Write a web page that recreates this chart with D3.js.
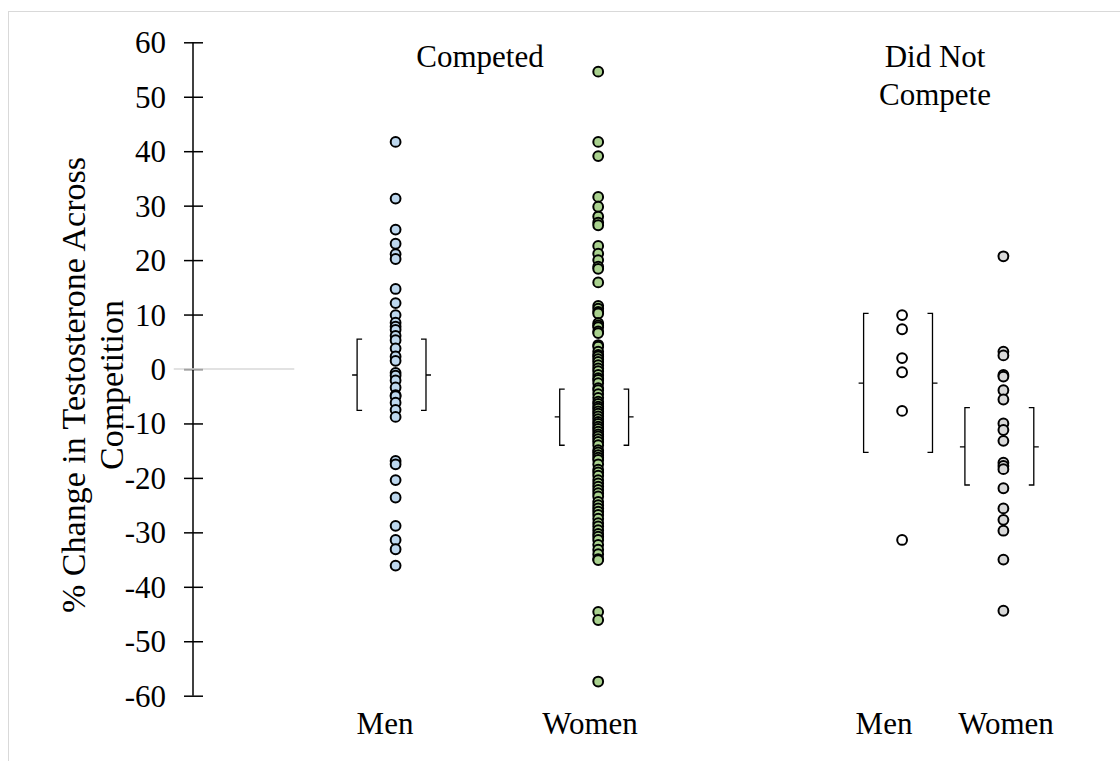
<!DOCTYPE html>
<html>
<head>
<meta charset="utf-8">
<script src="https://cdn.jsdelivr.net/npm/d3@7"></script>
<style>
  html, body { margin: 0; padding: 0; background: #fff; }
  svg text { font-family: "Liberation Serif", "Times New Roman", serif; fill: #000; }
</style>
</head>
<body>
<svg id="chart" width="1120" height="761"></svg>
<script>
// Groups along the horizontal axis (x position in group units)
const groups = ["Men", "Women", "Men", "Women"];
const groupX = [2, 4, 7, 8];
const groupFill = ["#bdd7ee", "#a9d18e", "#ffffff", "#d9d9d9"];

// % change in testosterone per participant
const menCompeted = [41.7, 31.3, 25.6, 23.0, 21.1, 20.2, 14.7, 12.1, 9.9, 8.5, 7.8, 7.2, 6.1, 5.3,
  3.8, 2.3, 1.5, -0.7, -1.2, -2.1, -3.4, -4.8, -5.0, -6.2, -7.5, -8.8, -16.9, -17.5, -20.4,
  -23.6, -28.8, -31.4, -33.1, -36.1];
const womenCompeted = [54.6, 41.7, 39.1, 31.6, 29.8, 28.0, 26.9, 26.4, 22.6, 21.2, 20.0, 18.8,
  18.4, 15.9, 11.6, 11.1, 10.5, 10.2, 8.4, 8.0, 7.7, 6.9, 6.6, 4.4, 4.1, 3.2, 2.6, 2.3, 1.8,
  1.3, 0.7, 0.1, -0.4, -1.1, -1.7, -2.0, -2.6, -3.5, -3.9, -4.6, -5.3, -6.0, -6.4, -6.9, -7.3,
  -7.8, -8.2, -8.7, -9.2, -9.7, -10.1, -10.6, -11.0, -11.5, -12.0, -12.4, -12.9, -13.4, -14.0,
  -14.9, -15.3, -15.8, -16.3, -16.7, -17.5, -18.5, -19.0, -19.6, -20.4, -21.0, -21.6, -22.2,
  -22.8, -23.4, -24.4, -25.0, -25.6, -26.2, -26.8, -27.5, -28.3, -28.9, -29.6, -30.3, -30.8,
  -31.4, -32.3, -33.2, -34.0, -34.9, -35.1, -44.6, -46.1, -57.4];
const menNotCompeted = [9.9, 7.3, 2.0, -0.6, -7.7, -31.4];
const womenNotCompeted = [20.7, 3.2, 2.5, -1.1, -1.4, -3.9, -5.6, -10.0, -11.2, -13.2, -17.2,
  -17.8, -18.4, -21.9, -25.6, -27.7, -29.7, -35.0, -44.4];

// Mean and spread brackets per group
const bracketMean = [-1.1, -8.8, -2.6, -14.3];
const bracketLow = [-7.6, -14.0, -15.3, -21.3];
const bracketHigh = [5.5, -3.7, 10.2, -7.1];

const yTicks = [60, 50, 40, 30, 20, 10, 0, -10, -20, -30, -40, -50, -60];

const series = [menCompeted, womenCompeted, menNotCompeted, womenNotCompeted];

const FONT = 31;
const TITLE_FONT = 34;
const svg = d3.select("#chart");

// Outer frame
svg.append("rect")
  .attr("x", 8.5).attr("y", 11.5)
  .attr("width", 1200).attr("height", 800)
  .attr("fill", "none").attr("stroke", "#d9d9d9").attr("stroke-width", 1);

const x = d3.scaleLinear().domain([0, 8]).range([193, 1003.4]);
const y = d3.scaleLinear().domain([-60, 60]).range([695.7, 42.3]);

// Vertical axis with ticks crossing the line
const axis = svg.append("g")
  .attr("transform", `translate(${x(0)},0)`)
  .call(d3.axisLeft(y).tickValues(yTicks).tickSizeInner(9).tickSizeOuter(0).tickPadding(18)
    .tickFormat(d => String(d)));
axis.select(".domain").attr("stroke", "#000").attr("stroke-width", 1.5)
  .attr("d", `M0,${y(60)}V${y(-60)}`);
axis.selectAll(".tick line").attr("stroke", "#000").attr("stroke-width", 1.5)
  .attr("x1", -9).attr("x2", 10);
axis.selectAll(".tick text")
  .attr("dy", "0.34em")
  .style("font-family", "'Liberation Serif', serif")
  .style("font-size", FONT + "px");

// Zero reference line
svg.append("line")
  .attr("x1", x(-0.19)).attr("x2", x(1))
  .attr("y1", y(0)).attr("y2", y(0))
  .attr("stroke", "#d9d9d9").attr("stroke-width", 1.5);

// Brackets
const bw = 5, tk = 5;
groupX.forEach((gx, i) => {
  const xl = x(gx - 0.38), xr = x(gx + 0.30);
  const yt = y(bracketHigh[i]), yb = y(bracketLow[i]), ym = y(bracketMean[i]);
  const g = svg.append("g").attr("fill", "none").attr("stroke", "#000").attr("stroke-width", 1.3);
  g.append("path").attr("d", `M${xl + bw},${yt}H${xl}V${yb}H${xl + bw}M${xl},${ym}H${xl - tk}`);
  g.append("path").attr("d", `M${xr - bw},${yt}H${xr}V${yb}H${xr - bw}M${xr},${ym}H${xr + tk}`);
});

// Participant markers
series.forEach((vals, i) => {
  svg.append("g").selectAll("circle")
    .data(vals)
    .join("circle")
    .attr("cx", x(groupX[i]))
    .attr("cy", d => y(d))
    .attr("r", 4.9)
    .attr("fill", groupFill[i])
    .attr("stroke", "#000")
    .attr("stroke-width", 2);
});

// Group labels along the bottom
const labelX = [385, 590, 884, 1006];
svg.append("g").selectAll("text")
  .data(groups)
  .join("text")
  .attr("x", (d, i) => labelX[i])
  .attr("y", 734)
  .attr("text-anchor", "middle")
  .style("font-size", FONT + "px")
  .text(d => d);

// Condition headings
svg.append("text").attr("x", 480).attr("y", 67).attr("text-anchor", "middle")
  .style("font-size", FONT + "px").text("Competed");
svg.append("text").attr("x", 935).attr("y", 67).attr("text-anchor", "middle")
  .style("font-size", FONT + "px").text("Did Not");
svg.append("text").attr("x", 935).attr("y", 105).attr("text-anchor", "middle")
  .style("font-size", FONT + "px").text("Compete");

// Y axis title
const title = svg.append("text")
  .attr("transform", "translate(85,385) rotate(-90)")
  .attr("text-anchor", "middle")
  .style("font-size", TITLE_FONT + "px");
title.append("tspan").attr("x", 0).attr("dy", 0).text("% Change in Testosterone Across");
title.append("tspan").attr("x", 0).attr("dy", 38).text("Competition");
</script>
</body>
</html>
